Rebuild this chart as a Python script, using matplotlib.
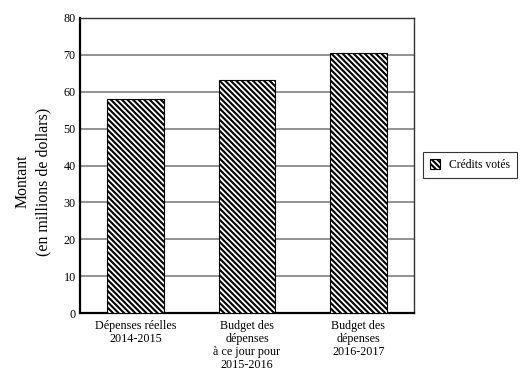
import matplotlib
matplotlib.use("Agg")
import matplotlib.pyplot as plt
import numpy as np

categories = [
    "Dépenses réelles\n2014-2015",
    "Budget des\ndépenses\nà ce jour pour\n2015-2016",
    "Budget des\ndépenses\n2016-2017",
]
credits_votes = [58.0, 63.1, 70.6]
series_label = "Crédits votés"
y_ticks = [0, 10, 20, 30, 40, 50, 60, 70, 80]

plt.rcParams["font.family"] = ["Liberation Serif", "DejaVu Serif"]
plt.rcParams["hatch.linewidth"] = 1.5
plt.rcParams["hatch.color"] = "black"

fig = plt.figure(figsize=(5.24, 3.68), dpi=100)
ax = fig.add_axes([80 / 524, 1 - 313 / 368, 334 / 524, 295 / 368])

x = np.arange(len(categories))
ax.bar(x, credits_votes, width=0.51, color="white", edgecolor="black",
       linewidth=0.8, hatch="\\" * 6, label=series_label, zorder=3)

ax.set_xlim(-0.5, len(categories) - 0.5)
ax.set_ylim(0, 80)
ax.set_yticks(y_ticks)
ax.set_yticklabels([str(t) for t in y_ticks], fontsize=8.7)
ax.set_xticks(x)
ax.set_xticklabels(categories, fontsize=8.7, linespacing=1.1)
ax.tick_params(axis="both", length=0, pad=3)
ax.tick_params(axis="x", pad=5)

ax.yaxis.grid(True, color="#7f7f7f", linewidth=1.2, zorder=0)
ax.set_axisbelow(True)

for side in ("left", "bottom"):
    ax.spines[side].set_linewidth(1.6)
    ax.spines[side].set_color("black")
for side in ("top", "right"):
    ax.spines[side].set_linewidth(1.0)
    ax.spines[side].set_color("#333333")

ax.set_ylabel("Montant\n(en millions de dollars)", fontsize=11.4, linespacing=1.35,
              labelpad=9)
ax.yaxis.label.set_y(0.445)

leg = fig.legend(loc="upper left", bbox_to_anchor=(423 / 524, 1 - 152 / 368),
                 fontsize=8.4, frameon=True, fancybox=False, edgecolor="black",
                 handlelength=0.85, handleheight=0.85, handletextpad=0.75,
                 borderpad=0.6, borderaxespad=0)
leg.get_frame().set_linewidth(0.8)

fig.savefig("out.png", dpi=100)
